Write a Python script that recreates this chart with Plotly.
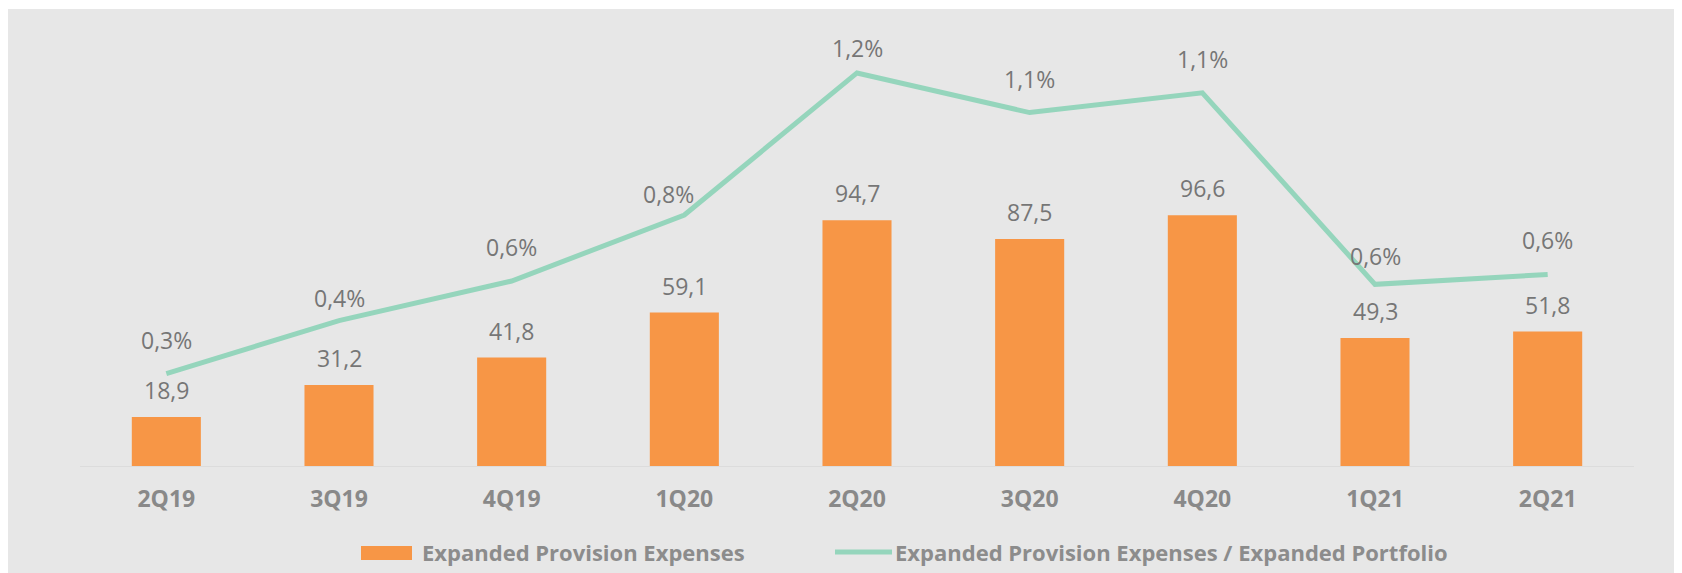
import plotly.graph_objects as go

quarters = ["2Q19", "3Q19", "4Q19", "1Q20", "2Q20", "3Q20", "4Q20", "1Q21", "2Q21"]
provision_expenses = [18.9, 31.2, 41.8, 59.1, 94.7, 87.5, 96.6, 49.3, 51.8]
provision_ratio = [0.28, 0.44, 0.56, 0.76, 1.19, 1.07, 1.13, 0.55, 0.58]

BAR_NAME = "Expanded Provision Expenses"
LINE_NAME = "Expanded Provision Expenses / Expanded Portfolio"

COLORS = {
    "bar": "#f79646",
    "line": "#95d5bc",
    "bg": "#e7e7e7",
    "label": "#767676",
    "axis": "#898989",
    "legend": "#8c8c8c",
}
FONT = "Open Sans"

# a few ratio labels were nudged by hand in the original (yshift, xshift)
ratio_label_nudge = {"3Q19": (23, 0), "1Q20": (21, -16), "2Q20": (25, 0), "1Q21": (28, 0)}

# plot area in pixels (figure sits 8px into the page)
W, H = 1674, 565
L, R, T, B = 72, 48, 22, 107
PW, PH = W - L - R, H - T - B


def fmt(v, suffix=""):
    return f"{v:.1f}".replace(".", ",") + suffix


def px(x):
    return (x - L) / PW


def py(y):
    return (H - B - y) / PH


fig = go.Figure()

fig.add_trace(go.Bar(
    x=quarters,
    y=provision_expenses,
    name=BAR_NAME,
    marker=dict(color=COLORS["bar"], line=dict(width=0)),
    yaxis="y",
))

fig.add_trace(go.Scatter(
    x=quarters,
    y=provision_ratio,
    name=LINE_NAME,
    mode="lines",
    line=dict(color=COLORS["line"], width=5),
    yaxis="y2",
))

label_font = dict(family=FONT, size=23, color=COLORS["label"])
annotations = []
for q, v in zip(quarters, provision_expenses):
    annotations.append(dict(
        x=q, y=v, xref="x", yref="y", text=fmt(v), showarrow=False,
        yanchor="middle", yshift=27, font=label_font,
    ))
for q, v in zip(quarters, provision_ratio):
    dy, dx = ratio_label_nudge.get(q, (34, 0))
    annotations.append(dict(
        x=q, y=v, xref="x", yref="y2", text=fmt(v + 1e-9, "%"), showarrow=False,
        yanchor="middle", yshift=dy, xshift=dx, font=label_font,
    ))

# legend drawn by hand to get the wide Excel-style swatches
legend_font = dict(family=FONT, size=22, color=COLORS["legend"], weight="bold")
annotations += [
    dict(x=px(412), y=py(544), xref="paper", yref="paper", text=BAR_NAME,
         showarrow=False, xanchor="left", yanchor="middle", font=legend_font),
    dict(x=px(885), y=py(544), xref="paper", yref="paper", text=LINE_NAME,
         showarrow=False, xanchor="left", yanchor="middle", font=legend_font),
]

shapes = [
    dict(type="rect", xref="paper", yref="paper",
         x0=px(0), x1=px(W), y0=py(H), y1=py(1),
         fillcolor=COLORS["bg"], line=dict(width=0), layer="below"),
    dict(type="rect", xref="paper", yref="paper",
         x0=px(353), x1=px(404), y0=py(552), y1=py(538),
         fillcolor=COLORS["bar"], line=dict(width=0)),
    dict(type="line", xref="paper", yref="paper",
         x0=px(827), x1=px(884), y0=py(544), y1=py(544),
         line=dict(color=COLORS["line"], width=5)),
]

fig.update_layout(
    width=W,
    height=H,
    margin=dict(l=L, r=R, t=T, b=B),
    paper_bgcolor="white",
    plot_bgcolor=COLORS["bg"],
    bargap=0.6,
    showlegend=False,
    xaxis=dict(
        showgrid=False,
        showline=True,
        linecolor="#dcdcdc",
        linewidth=1,
        ticks="",
        tickfont=dict(family=FONT, size=23, color=COLORS["axis"], weight="bold"),
        ticklabelstandoff=12,
    ),
    yaxis=dict(
        range=[0, 168],
        visible=False,
        showgrid=False,
        zeroline=False,
    ),
    yaxis2=dict(
        range=[0, 1.32],
        overlaying="y",
        side="right",
        visible=False,
        showgrid=False,
        zeroline=False,
    ),
    annotations=annotations,
    shapes=shapes,
)

fig.write_html("out.html")
